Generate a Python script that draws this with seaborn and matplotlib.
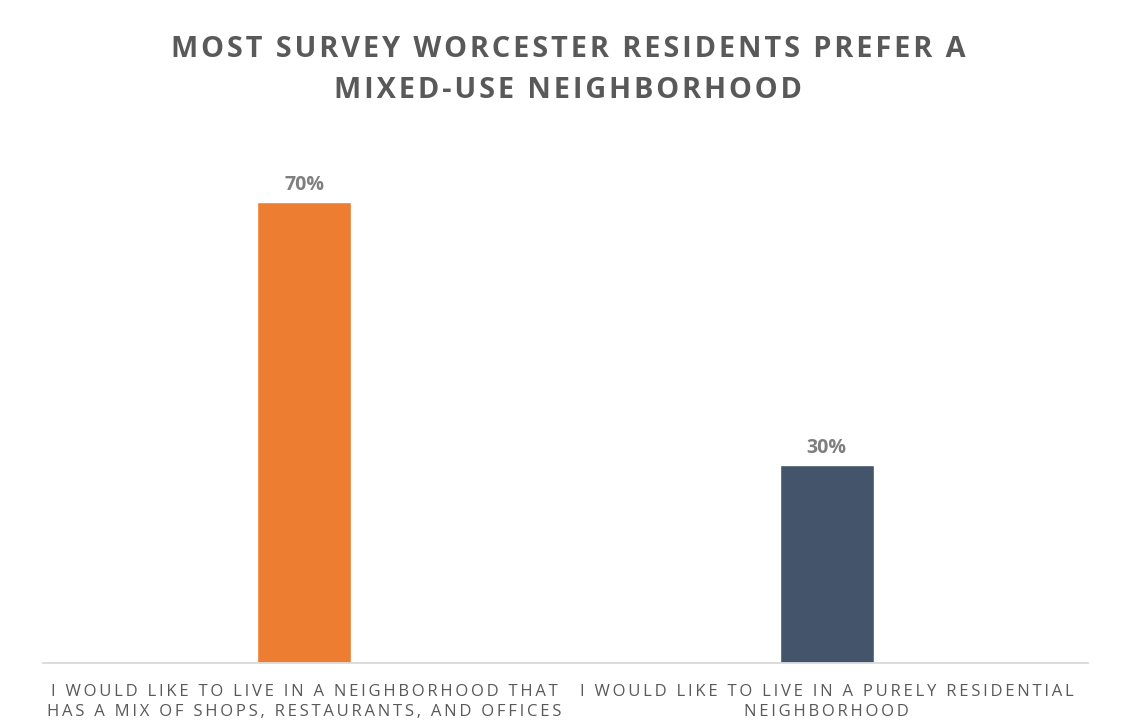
import matplotlib
matplotlib.use("Agg")
import matplotlib.pyplot as plt
import seaborn as sns

# Survey responses
categories = [
    "I WOULD LIKE TO LIVE IN A NEIGHBORHOOD THAT\nHAS A MIX OF SHOPS, RESTAURANTS, AND OFFICES",
    "I WOULD LIKE TO LIVE IN A PURELY RESIDENTIAL\nNEIGHBORHOOD",
]
values = [70, 30]
value_labels = ["70%", "30%"]
bar_colors = ["#ED7D31", "#44546A"]
title = "MOST SURVEY WORCESTER RESIDENTS PREFER A\nMIXED-USE NEIGHBORHOOD"

sns.set_theme(style="white")
plt.rcParams["font.family"] = ["Open Sans", "DejaVu Sans"]

TEXT = "#595959"


def spaced(s, gap="\u200a"):
    """Widen tracking by putting a narrow space between letters."""
    return "\n".join(gap.join(line) for line in s.split("\n"))


fig = plt.figure(figsize=(11.38, 7.27), dpi=100)
ax = fig.add_axes([43 / 1138, 64 / 727, 1045 / 1138, 527 / 727])

sns.barplot(x=categories, y=values, hue=categories, palette=bar_colors,
            width=0.18, legend=False, saturation=1, ax=ax)

ax.set_xlim(-0.5, 1.5)
ax.set_ylim(0, 80)
ax.set_yticks([])
ax.set_ylabel("")
ax.set_xlabel("")
for side in ["top", "left", "right"]:
    ax.spines[side].set_visible(False)
ax.spines["bottom"].set_color("#D9D9D9")
ax.spines["bottom"].set_linewidth(1.3)
ax.tick_params(axis="x", length=0, pad=15)

ax.set_xticks(range(len(categories)))
ax.set_xticklabels([spaced(c, "\u2009") for c in categories],
                   fontsize=12, color=TEXT, linespacing=1.38)

for i, (v, lab) in enumerate(zip(values, value_labels)):
    ax.annotate(lab, (i, v), xytext=(0, 5), textcoords="offset points",
                ha="center", va="bottom", fontsize=14, fontweight="bold",
                color="#7F7F7F")

fig.text(568 / 1138, 1 - 70 / 727, spaced(title), ha="center", va="center",
         fontsize=20.8, fontweight="bold", color=TEXT, linespacing=1.55)

fig.savefig("out.png", dpi=100, facecolor="white")
